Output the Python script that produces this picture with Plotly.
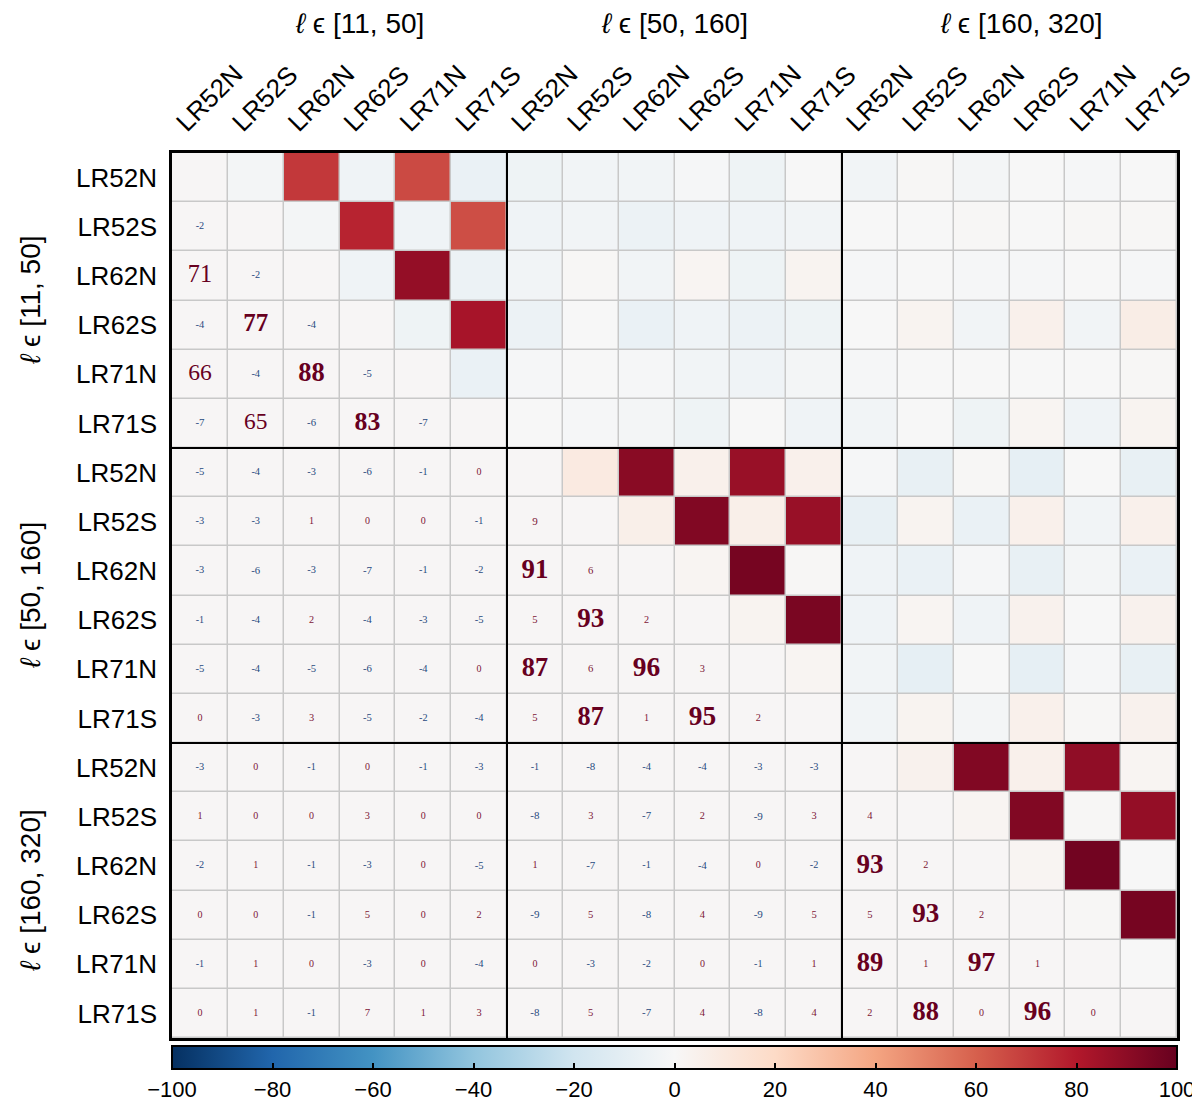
import plotly.graph_objects as go

labels = ["LR52N", "LR52S", "LR62N", "LR62S", "LR71N", "LR71S"]
ell_ranges = ["[11, 50]", "[50, 160]", "[160, 320]"]

# lower triangle of the correlation matrix (%), one list per row, rows 1..17
rows_b1 = [
    [-2],
    [71, -2],
    [-4, 77, -4],
    [66, -4, 88, -5],
    [-7, 65, -6, 83, -7],
]
rows_b2 = [
    [-5, -4, -3, -6, -1, 0],
    [-3, -3, 1, 0, 0, -1, 9],
    [-3, -6, -3, -7, -1, -2, 91, 6],
    [-1, -4, 2, -4, -3, -5, 5, 93, 2],
    [-5, -4, -5, -6, -4, 0, 87, 6, 96, 3],
    [0, -3, 3, -5, -2, -4, 5, 87, 1, 95, 2],
]
rows_b3 = [
    [-3, 0, -1, 0, -1, -3, -1, -8, -4, -4, -3, -3],
    [1, 0, 0, 3, 0, 0, -8, 3, -7, 2, -9, 3, 4],
    [-2, 1, -1, -3, 0, -5, 1, -7, -1, -4, 0, -2, 93, 2],
    [0, 0, -1, 5, 0, 2, -9, 5, -8, 4, -9, 5, 5, 93, 2],
    [-1, 1, 0, -3, 0, -4, 0, -3, -2, 0, -1, 1, 89, 1, 97, 1],
    [0, 1, -1, 7, 1, 3, -8, 5, -7, 4, -8, 4, 2, 88, 0, 96, 0],
]
cbar_ticks = [-100, -80, -60, -40, -20, 0, 20, 40, 60, 80, 100]

# matplotlib-style RdBu_r
rdbu_r = ["#053061", "#2166ac", "#4393c3", "#92c5de", "#d1e5f0", "#f7f7f7",
          "#fddbc7", "#f4a582", "#d6604d", "#b2182b", "#67001f"]
colorscale = [[i / 10, c] for i, c in enumerate(rdbu_r)]

SANS = "Liberation Sans"
SERIF = "Liberation Serif"


def text_size(v):
    a = abs(v)
    return 10 + 0.12 * a if a < 50 else 15 + 0.13 * a


def main():
    names = labels * len(ell_ranges)
    n = len(names)
    nb = len(labels)
    lower = [[]] + rows_b1 + rows_b2 + rows_b3

    # upper triangle shows the colours, lower triangle the numbers
    z_up = [[lower[j][i] if j > i else None for j in range(n)] for i in range(n)]
    z_bg = [[1 if j <= i else None for j in range(n)] for i in range(n)]

    fig = go.Figure()
    fig.add_trace(go.Heatmap(
        z=z_bg, x=list(range(n)), y=list(range(n)),
        colorscale=[[0, "#f7f5f5"], [1, "#f7f5f5"]], showscale=False,
        xgap=1.5, ygap=1.5, hoverinfo="skip",
    ))
    fig.add_trace(go.Heatmap(
        z=z_up, x=list(range(n)), y=list(range(n)),
        colorscale=colorscale, zmin=-100, zmax=100,
        xgap=1.5, ygap=1.5,
        colorbar=dict(
            orientation="h", x=0.5, xanchor="center", y=-0.009, yanchor="top",
            len=1, lenmode="fraction", thickness=23, xpad=0, ypad=0,
            outlinewidth=2, outlinecolor="black",
            ticks="inside", ticklen=7, tickwidth=1.5, tickcolor="black",
            tickvals=cbar_ticks, tickfont=dict(family=SANS, size=22, color="black"),
        ),
    ))

    # numbers in the lower triangle, size grows with |value|
    for bold in (False, True):
        xs, ys, txt, sizes, cols = [], [], [], [], []
        for i in range(1, n):
            for j, v in enumerate(lower[i]):
                if (abs(v) >= 75) != bold:
                    continue
                xs.append(j)
                ys.append(i)
                txt.append(str(v))
                sizes.append(text_size(v))
                cols.append("#284a7e" if v < 0 else ("#67001f" if abs(v) > 50 else "#7d1535"))
        fig.add_trace(go.Scatter(
            x=xs, y=ys, mode="text", text=txt, hoverinfo="skip",
            textfont=dict(family=SERIF, size=sizes, color=cols,
                          weight="bold" if bold else "normal"),
        ))

    # block separators
    for k in range(1, len(ell_ranges)):
        b = k * nb - 0.5
        fig.add_shape(type="line", x0=b, x1=b, y0=-0.5, y1=n - 0.5,
                      line=dict(color="black", width=2), layer="above")
        fig.add_shape(type="line", x0=-0.5, x1=n - 0.5, y0=b, y1=b,
                      line=dict(color="black", width=2), layer="above")

    title_shift = [20, 0, 12]
    for k, r in enumerate(ell_ranges):
        c = k * nb + (nb - 1) / 2
        fig.add_annotation(x=c, y=1.146, xref="x", yref="paper", showarrow=False,
                           xanchor="center", yanchor="middle", xshift=title_shift[k],
                           text="<i>ℓ</i> ϵ " + r, font=dict(family=SANS, size=28, color="black"))
        fig.add_annotation(x=-0.141, y=c, xref="paper", yref="y", showarrow=False,
                           xanchor="center", yanchor="middle", textangle=-90,
                           text="<i>ℓ</i> ϵ " + r, font=dict(family=SANS, size=28, color="black"))

    axis_common = dict(
        tickvals=list(range(n)), ticktext=names, range=[-0.5, n - 0.5],
        showgrid=False, zeroline=False, showline=True, mirror=True,
        linecolor="black", linewidth=2.5, ticks="", automargin=False,
        tickfont=dict(family=SANS, size=26, color="black"),
    )
    fig.update_xaxes(side="top", tickangle=-45, ticklabelstandoff=3,
                     ticklabelshift=-22, ticklabeloverflow="allow", **axis_common)
    fig.update_yaxes(autorange=False, ticklabelstandoff=7, **axis_common)
    fig.update_yaxes(range=[n - 0.5, -0.5])

    # the page body adds 8px on the left/top, so margins are trimmed to suit
    fig.update_layout(
        width=1200, height=1114,
        margin=dict(l=164, r=31, t=145, b=81),
        plot_bgcolor="#c8c8c8", paper_bgcolor="white",
        showlegend=False,
    )

    fig.write_html("out.html")


if __name__ == "__main__":
    main()
